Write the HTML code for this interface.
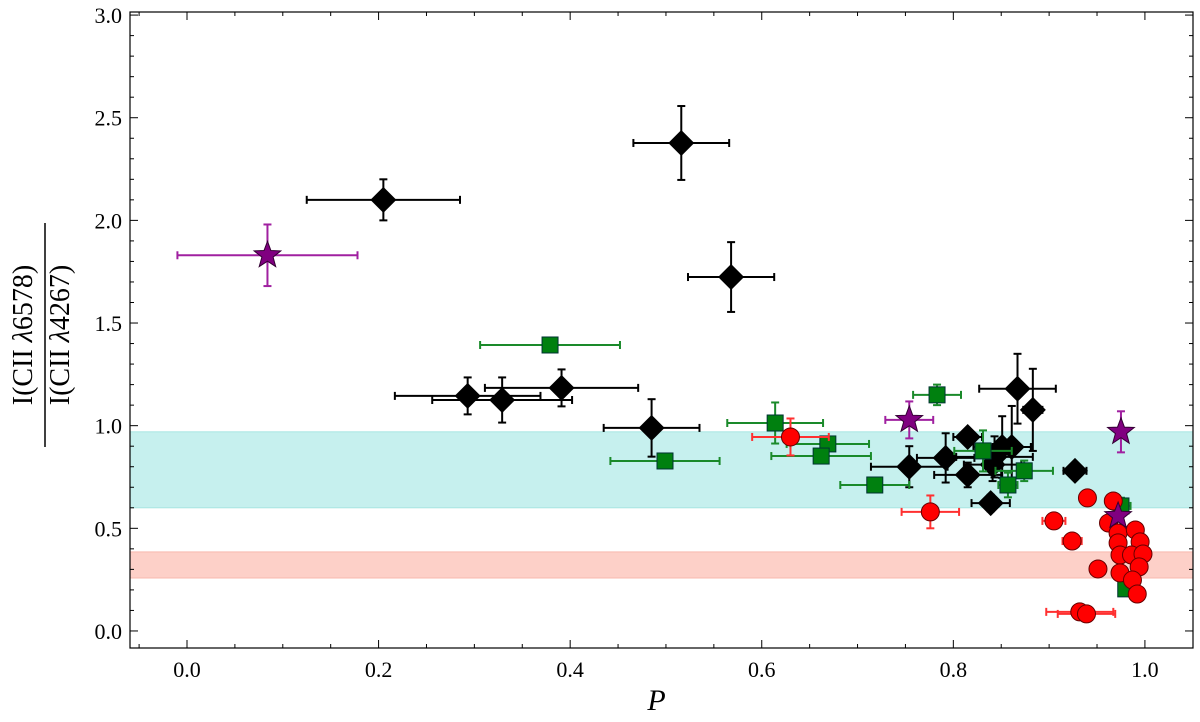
<!DOCTYPE html>
<html><head><meta charset="utf-8"><style>
body{margin:0;background:#fff}
svg{display:block;font-family:"Liberation Serif",serif}
</style></head><body>
<svg id="chart" width="1200" height="722" viewBox="0 0 1200 722" xmlns="http://www.w3.org/2000/svg"></svg>
<script>
// ---- data ----
const redX=[0.940,0.967,0.962,0.972,0.990,0.995,0.972,0.974,0.986,0.998,0.994,0.951,0.974,0.987,0.992,0.905,0.924,0.932,0.939,0.630,0.776];
const redY=[0.648,0.633,0.526,0.477,0.492,0.434,0.429,0.370,0.370,0.375,0.312,0.302,0.283,0.248,0.180,0.536,0.438,0.093,0.083,0.945,0.580];
const redXe=[0,0,0,0,0,0,0,0,0,0,0,0,0,0,0,0.012,0.01,0.035,0.03,0.04,0.03];
const redYe=[0.03,0.03,0,0,0,0,0,0,0,0,0,0,0,0,0,0.03,0.03,0.02,0.02,0.09,0.08];
const blkX=[0.205,0.516,0.568,0.293,0.329,0.391,0.485,0.754,0.792,0.815,0.815,0.839,0.867,0.883,0.851,0.861,0.841,0.927,0.843];
const blkY=[2.100,2.377,1.724,1.145,1.125,1.184,0.989,0.800,0.843,0.945,0.760,0.623,1.180,1.077,0.896,0.896,0.810,0.780,0.848];
const blkXe=[0.08,0.05,0.045,0.076,0.073,0.08,0.05,0.04,0.03,0.015,0.035,0.02,0.04,0.01,0.03,0.02,0.03,0.012,0.04];
const blkYe=[0.10,0.18,0.17,0.09,0.11,0.09,0.14,0.10,0.12,0.03,0.06,0.04,0.17,0.20,0.15,0.20,0.08,0.02,0.10];
const grnX=[0.379,0.614,0.499,0.669,0.662,0.718,0.783,0.831,0.857,0.874,0.975,0.980];
const grnY=[1.393,1.013,0.828,0.911,0.852,0.711,1.150,0.877,0.711,0.780,0.609,0.205];
const grnXe=[0.073,0.05,0.057,0.043,0.052,0.036,0.025,0.03,0.01,0.03,0.01,0];
const grnYe=[0.02,0.10,0.02,0.02,0.02,0.02,0.05,0.10,0.06,0.05,0.04,0];
const purX=[0.084,0.754,0.975,0.972];
const purY=[1.830,1.028,0.970,0.560];
const purXe=[0.094,0.025,0,0];
const purYe=[0.15,0.09,0.10,0];
const xTicks=[0.0,0.2,0.4,0.6,0.8,1.0];
const yTicks=[0.0,0.5,1.0,1.5,2.0,2.5,3.0];
const cyanBand=[0.60,0.97];
const redBand=[0.258,0.385];
// ---- scales ----
const L=130,R=1193,T=12,B=648;
const X0=-0.0595,X1=1.0502,Y0=-0.083,Y1=3.015;
const sx=v=>L+(v-X0)/(X1-X0)*(R-L);
const sy=v=>B-(v-Y0)/(Y1-Y0)*(B-T);
const NS='http://www.w3.org/2000/svg';
const svg=document.getElementById('chart');
function mk(tag,attrs,parent){const e=document.createElementNS(NS,tag);for(const k in attrs)e.setAttribute(k,attrs[k]);(parent||svg).appendChild(e);return e;}
// bands
let b=mk('rect',{x:L,y:sy(cyanBand[1]),width:R-L,height:sy(cyanBand[0])-sy(cyanBand[1]),fill:'#c6f0ee',stroke:'#a8e6e2'});


b=mk('rect',{x:L,y:sy(redBand[1]),width:R-L,height:sy(redBand[0])-sy(redBand[1]),fill:'#fdd0c8',stroke:'#f8b8ae'});


// axes frame
const fr=mk('rect',{x:L,y:T,width:R-L,height:B-T,fill:'none',stroke:'#000','stroke-width':1.2});


// ticks
const tg=mk('g',{stroke:'#000','stroke-width':1});


for(let v=-0.05;v<=1.05;v+=0.05){const p=sx(v);const major=Math.abs(v*5-Math.round(v*5))<1e-6;const l=major?8:4;
 mk('line',{x1:p,x2:p,y1:B,y2:B-l},tg);mk('line',{x1:p,x2:p,y1:T,y2:T+l},tg);}
for(let v=0;v<=3.0001;v+=0.1){const p=sy(v);const major=Math.abs(v*2-Math.round(v*2))<1e-6;const l=major?8:4;
 mk('line',{x1:L,x2:L+l,y1:p,y2:p},tg);mk('line',{x1:R,x2:R-l,y1:p,y2:p},tg);}
xTicks.forEach(v=>{const t=mk('text',{x:sx(v),y:B+29,'text-anchor':'middle','font-size':22});t.textContent=v.toFixed(1);
 
 });
yTicks.forEach(v=>{const t=mk('text',{x:L-8,y:sy(v)+8,'text-anchor':'end','font-size':22});t.textContent=v.toFixed(1);
 
 });
// axis titles
let xt=mk('text',{x:(L+R)/2-5,y:B+62,'text-anchor':'middle','font-size':30,'font-style':'italic'});xt.textContent='P';


const yg=mk('g',{transform:'translate(45,335) rotate(-90)'});


let t1=mk('text',{x:0,y:-13,'text-anchor':'middle','font-size':28},yg);t1.innerHTML='I(CII <tspan font-style="italic">λ</tspan>6578)';
mk('line',{x1:-112,x2:112,y1:0,y2:0,stroke:'#000','stroke-width':1.5},yg);
let t2=mk('text',{x:0,y:24,'text-anchor':'middle','font-size':28},yg);t2.innerHTML='I(CII <tspan font-style="italic">λ</tspan>4267)';
// markers
function errs(g,x,y,xe,ye,col){
 if(xe>0){mk('line',{x1:sx(x-xe),x2:sx(x+xe),y1:sy(y),y2:sy(y),stroke:col,'stroke-width':2},g);
  [x-xe,x+xe].forEach(v=>mk('line',{x1:sx(v),x2:sx(v),y1:sy(y)-4,y2:sy(y)+4,stroke:col,'stroke-width':2},g));}
 if(ye>0){mk('line',{x1:sx(x),x2:sx(x),y1:sy(y-ye),y2:sy(y+ye),stroke:col,'stroke-width':2},g);
  [y-ye,y+ye].forEach(v=>mk('line',{x1:sx(x)-4,x2:sx(x)+4,y1:sy(v),y2:sy(v),stroke:col,'stroke-width':2},g));}
}
function star(cx,cy,r){let p=[];for(let i=0;i<10;i++){const a=-Math.PI/2+i*Math.PI/5;const rr=i%2?r*0.42:r;p.push((cx+rr*Math.cos(a)).toFixed(1)+','+(cy+rr*Math.sin(a)).toFixed(1));}return p.join(' ');}
function series(name,X,Y,XE,YE,col,shape){
 const g=mk('g',{});
 
 
 X.forEach((x,i)=>errs(g,x,Y[i],XE[i],YE[i],col));
 X.forEach((x,i)=>{const cx=sx(x),cy=sy(Y[i]);let m;
  if(shape==='circle')m=mk('circle',{cx,cy,r:9,fill:'#ff0000',stroke:'#600',"stroke-width":1},g);
  else if(shape==='diamond')m=mk('polygon',{points:`${cx},${cy-13} ${cx+13},${cy} ${cx},${cy+13} ${cx-13},${cy}`,fill:'#000'},g);
  else if(shape==='square')m=mk('rect',{x:cx-8,y:cy-8,width:16,height:16,fill:'#00800f',stroke:'#033','stroke-width':1},g);
  else m=mk('polygon',{points:star(cx,cy,14),fill:'#800080',stroke:'#303','stroke-width':1},g);
  
  
 });
}
series('black-diamonds',blkX,blkY,blkXe,blkYe,'#000','diamond');
series('green-squares',grnX,grnY,grnXe,grnYe,'#1a8a2a','square');
series('red-circles',redX,redY,redXe,redYe,'#ff3030','circle');
series('purple-stars',purX,purY,purXe,purYe,'#a020a0','star');
</script>
</body></html>
